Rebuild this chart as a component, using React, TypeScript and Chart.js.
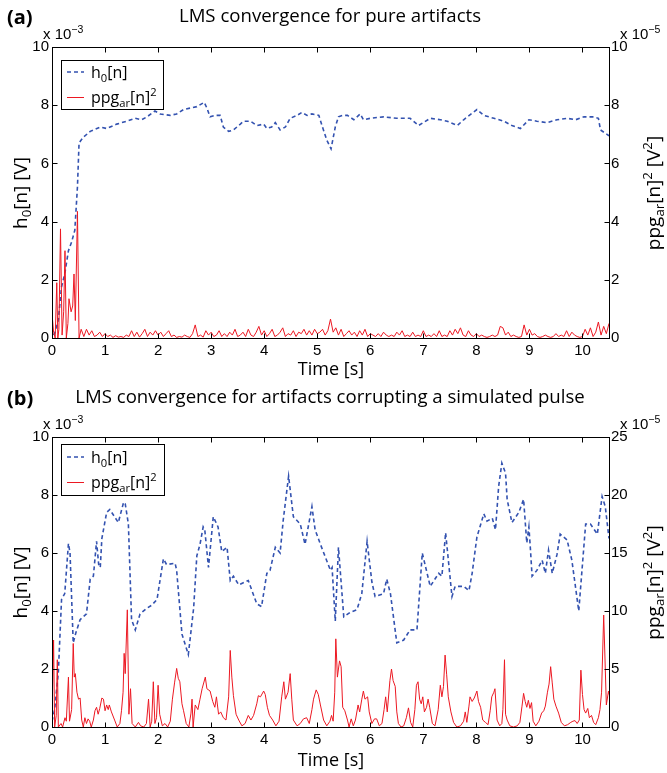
import React, { useEffect, useRef } from 'react';
import { Chart, registerables } from 'chart.js';

Chart.register(...registerables);

// ---------- data ----------
const X_MAX = 10.5;
const X_STEP = 1;
const LEFT_MAX = 10;
const LEFT_STEP = 2;
const RIGHT_MAX_A = 10;
const RIGHT_STEP_A = 2;
const RIGHT_MAX_B = 25;
const RIGHT_STEP_B = 5;

const TITLE_A = 'LMS convergence for pure artifacts';
const TITLE_B = 'LMS convergence for artifacts corrupting a simulated pulse';

// (a) h0[n]  [time s, value x1e-3]
const BLUE_A: [number, number][] = [
  [0.03, 0.1], [0.06, 0.2], [0.12, 0.62], [0.18, 1.76], [0.24, 2.2], [0.31, 3.0], [0.37, 3.3], [0.43, 3.7],
  [0.48, 5.2], [0.51, 6.7], [0.59, 6.9], [0.72, 7.1], [0.91, 7.25], [1.03, 7.2], [1.22, 7.35], [1.41, 7.45],
  [1.57, 7.55], [1.69, 7.5], [1.79, 7.6], [1.94, 7.8], [2.04, 7.7], [2.23, 7.65], [2.35, 7.7], [2.48, 7.85],
  [2.6, 7.9], [2.73, 7.95], [2.87, 8.1], [2.92, 7.9], [2.98, 7.6], [3.07, 7.65], [3.17, 7.65], [3.23, 7.25],
  [3.33, 7.1], [3.42, 7.15], [3.55, 7.35], [3.61, 7.45], [3.74, 7.45], [3.86, 7.3], [3.99, 7.35], [4.05, 7.2],
  [4.14, 7.25], [4.21, 7.4], [4.3, 7.15], [4.4, 7.25], [4.49, 7.55], [4.62, 7.65], [4.71, 7.75], [4.81, 7.65],
  [4.9, 7.7], [5.03, 7.65], [5.09, 7.3], [5.18, 6.8], [5.26, 6.5], [5.34, 7.25], [5.4, 7.6], [5.47, 7.65],
  [5.57, 7.65], [5.69, 7.5], [5.81, 7.7], [5.87, 7.5], [6.0, 7.55], [6.25, 7.6], [6.5, 7.55], [6.75, 7.55],
  [6.91, 7.3], [7.13, 7.55], [7.32, 7.5], [7.45, 7.45], [7.64, 7.3], [7.76, 7.5], [8.01, 7.85], [8.14, 7.65],
  [8.33, 7.55], [8.52, 7.45], [8.67, 7.3], [8.83, 7.2], [8.99, 7.5], [9.14, 7.45], [9.33, 7.4], [9.52, 7.5],
  [9.71, 7.55], [9.87, 7.5], [10.03, 7.6], [10.21, 7.6], [10.3, 7.55], [10.34, 7.15], [10.5, 6.95],
];

// (a) ppg_ar[n]^2 initial burst [time s, value x1e-5]
const RED_A_BURST: [number, number][] = [
  [0, 0.85], [0.03, 0.2], [0.06, 0.0], [0.09, 1.9], [0.11, 0.0], [0.13, 0.3], [0.16, 3.75], [0.19, 0.1],
  [0.22, 0.9], [0.245, 3.0], [0.27, 0.0], [0.3, 0.5], [0.32, 1.35], [0.36, 0.9], [0.39, 1.1], [0.415, 2.2],
  [0.44, 0.6], [0.48, 4.35], [0.51, 0.0],
];
// (a) ppg_ar[n]^2 afterwards, sampled every 0.05 s from 0.55 s
const RED_A_TAIL_START = 0.55;
const RED_A_TAIL_STEP = 0.05;
const RED_A_TAIL: number[] = [
  0.3, 0.05, 0.3, 0.1, 0.25, 0.05, 0.1, 0.2, 0.05, 0.15,
  0.05, 0.1, 0.02, 0.08, 0.03, 0.05, 0.02, 0.1, 0.05, 0.25, 0.05, 0.2, 0.03, 0.15, 0.3, 0.05, 0.2, 0.1, 0.25, 0.1,
  0.2, 0.05, 0.15, 0.25, 0.05, 0.1, 0.02, 0.05, 0.03, 0.1, 0.05, 0.02, 0.15, 0.45, 0.05, 0.1, 0.03, 0.25, 0.1, 0.2,
  0.05, 0.1, 0.25, 0.05, 0.15, 0.05, 0.2, 0.1, 0.3, 0.05, 0.1, 0.2, 0.05, 0.3, 0.1, 0.05, 0.2, 0.4, 0.1, 0.25,
  0.05, 0.15, 0.3, 0.05, 0.1, 0.2, 0.35, 0.05, 0.15, 0.1, 0.25, 0.05, 0.2, 0.15, 0.3, 0.1, 0.25, 0.1, 0.3, 0.15,
  0.2, 0.3, 0.1, 0.25, 0.65, 0.2, 0.35, 0.1, 0.3, 0.05, 0.15, 0.25, 0.1, 0.2, 0.05, 0.25, 0.1, 0.3, 0.05, 0.15,
  0.1, 0.05, 0.15, 0.05, 0.2, 0.1, 0.05, 0.1, 0.05, 0.2, 0.1, 0.25, 0.05, 0.1, 0.05, 0.2, 0.05, 0.1, 0.05, 0.25,
  0.05, 0.1, 0.05, 0.15, 0.05, 0.25, 0.05, 0.1, 0.05, 0.25, 0.1, 0.3, 0.15, 0.35, 0.1, 0.05, 0.25, 0.1, 0.05, 0.15,
  0.05, 0.1, 0.05, 0.02, 0.05, 0.1, 0.05, 0.1, 0.4, 0.35, 0.1, 0.2, 0.05, 0.1, 0.05, 0.02, 0.05, 0.45, 0.1, 0.3,
  0.1, 0.15, 0.05, 0.02, 0.05, 0.1, 0.05, 0.02, 0.05, 0.15, 0.05, 0.1, 0.05, 0.25, 0.05, 0.2, 0.1, 0.05, 0.02, 0.05,
  0.3, 0.1, 0.35, 0.05, 0.2, 0.55, 0.1, 0.4, 0.15, 0.5,
];

// (b) h0[n]  [time s, value x1e-3]
const BLUE_B: [number, number][] = [
  [0.0, 0.2], [0.05, 0.6], [0.12, 1.9], [0.18, 4.4], [0.24, 4.6], [0.31, 6.33], [0.34, 6.0], [0.4, 2.9],
  [0.45, 3.25], [0.53, 3.7], [0.65, 3.9], [0.72, 5.1], [0.78, 5.2], [0.84, 6.4], [0.88, 5.6], [0.91, 5.5],
  [0.94, 6.5], [1.03, 7.4], [1.09, 7.5], [1.25, 7.05], [1.35, 7.75], [1.38, 7.7], [1.44, 7.0], [1.5, 3.7],
  [1.57, 3.35], [1.66, 3.9], [1.79, 4.1], [1.88, 4.2], [1.98, 4.4], [2.1, 5.8], [2.16, 5.6], [2.32, 5.65],
  [2.35, 5.4], [2.45, 3.2], [2.57, 2.5], [2.67, 4.1], [2.73, 5.9], [2.79, 6.3], [2.85, 6.9], [2.88, 6.8],
  [2.95, 5.5], [3.04, 7.25], [3.13, 6.9], [3.2, 6.05], [3.3, 6.2], [3.36, 5.05], [3.42, 5.2], [3.52, 4.9],
  [3.7, 5.05], [3.86, 4.25], [3.95, 4.15], [4.05, 5.3], [4.11, 5.4], [4.21, 6.2], [4.3, 6.0], [4.36, 7.15],
  [4.46, 8.65], [4.55, 7.25], [4.68, 7.0], [4.77, 6.3], [4.9, 7.6], [4.96, 6.8], [5.06, 6.3], [5.25, 5.4],
  [5.28, 5.5], [5.34, 3.65], [5.4, 6.2], [5.5, 3.8], [5.62, 3.95], [5.75, 4.05], [5.84, 4.6], [5.94, 6.4],
  [6.03, 5.0], [6.09, 4.5], [6.25, 4.6], [6.31, 5.1], [6.38, 4.6], [6.5, 2.9], [6.63, 3.0], [6.75, 3.35],
  [6.88, 3.35], [6.98, 6.0], [7.13, 4.85], [7.29, 5.3], [7.35, 5.2], [7.42, 6.7], [7.54, 4.5], [7.6, 4.85],
  [7.76, 4.85], [7.86, 4.7], [7.92, 5.3], [8.01, 6.55], [8.14, 7.35], [8.2, 7.1], [8.3, 7.2], [8.36, 6.8],
  [8.42, 8.3], [8.48, 9.1], [8.55, 8.75], [8.58, 7.85], [8.67, 7.05], [8.8, 7.4], [8.89, 7.85], [8.95, 6.35],
  [8.99, 6.9], [9.02, 6.1], [9.05, 5.2], [9.14, 5.4], [9.24, 5.75], [9.3, 5.3], [9.36, 6.1], [9.43, 5.3],
  [9.52, 5.95], [9.58, 6.65], [9.71, 6.45], [9.8, 5.75], [9.93, 4.0], [10.06, 7.0], [10.15, 7.0], [10.28, 6.65],
  [10.37, 7.95], [10.43, 7.6], [10.5, 6.5],
];

// (b) ppg_ar[n]^2  [time s, value x1e-5]
const RED_B: [number, number][] = [
  [0, 1.0], [0.03, 7.5], [0.05, 0.0], [0.08, 1.0], [0.1, 5.8], [0.12, 0.0], [0.17, 0.3], [0.2, 0.0],
  [0.245, 0.8], [0.27, 0.5], [0.31, 4.3], [0.33, 0.5], [0.37, 1.5], [0.4, 7.2], [0.42, 4.3], [0.44, 4.6],
  [0.47, 3.0], [0.5, 2.4], [0.53, 2.5], [0.56, 0.6], [0.59, 0.0], [0.62, 0.8], [0.65, 0.3], [0.68, 0.7],
  [0.71, 0.5], [0.74, 0.0], [0.78, 0.6], [0.81, 1.4], [0.84, 1.7], [0.87, 1.1], [0.9, 1.6], [0.94, 2.5],
  [0.97, 2.4], [1.0, 1.4], [1.03, 1.9], [1.06, 1.5], [1.08, 1.9], [1.12, 1.3], [1.18, 0.6], [1.23, 0.0],
  [1.28, 0.3], [1.31, 1.4], [1.34, 3.0], [1.36, 6.35], [1.38, 4.6], [1.42, 10.1], [1.45, 1.1], [1.48, 3.3],
  [1.51, 0.3], [1.57, 0.0], [1.63, 0.4], [1.67, 0.1], [1.73, 0.0], [1.78, 0.3], [1.82, 2.4], [1.85, 0.0],
  [1.88, 0.5], [1.91, 3.9], [1.94, 0.3], [1.97, 0.8], [2.0, 3.6], [2.03, 1.1], [2.08, 0.1], [2.13, 0.3],
  [2.18, 0.0], [2.23, 0.5], [2.27, 2.4], [2.31, 3.8], [2.35, 5.05], [2.38, 4.2], [2.41, 3.9], [2.45, 2.0],
  [2.48, 1.4], [2.53, 0.3], [2.58, 0.0], [2.62, 1.2], [2.64, 2.4], [2.66, 0.0], [2.7, 1.9], [2.75, 1.5],
  [2.79, 2.4], [2.83, 3.3], [2.89, 4.3], [2.92, 3.3], [2.98, 3.1], [3.03, 2.2], [3.07, 1.7], [3.1, 2.6],
  [3.14, 1.1], [3.18, 1.3], [3.23, 0.8], [3.28, 0.6], [3.33, 2.6], [3.36, 6.6], [3.39, 4.3], [3.42, 2.7],
  [3.47, 1.1], [3.52, 0.6], [3.58, 0.1], [3.64, 0.3], [3.7, 1.0], [3.75, 0.6], [3.8, 1.0], [3.86, 2.0],
  [3.89, 2.7], [3.93, 2.6], [3.99, 3.1], [4.02, 2.8], [4.06, 1.7], [4.1, 1.0], [4.16, 0.6], [4.22, 0.1],
  [4.28, 0.5], [4.33, 2.6], [4.37, 3.9], [4.4, 2.4], [4.45, 3.0], [4.49, 4.6], [4.52, 2.4], [4.55, 0.6],
  [4.62, 0.1], [4.68, 0.3], [4.74, 0.7], [4.8, 0.8], [4.85, 0.3], [4.9, 1.5], [4.93, 2.4], [4.98, 3.2],
  [5.02, 2.8], [5.06, 1.9], [5.12, 0.6], [5.18, 0.1], [5.24, 0.5], [5.27, 1.0], [5.3, 0.5], [5.33, 3.0],
  [5.35, 7.6], [5.38, 4.3], [5.42, 5.7], [5.45, 5.2], [5.48, 1.7], [5.52, 1.4], [5.57, 0.6], [5.6, 0.0],
  [5.64, 0.7], [5.68, 0.1], [5.72, 0.6], [5.77, 1.9], [5.8, 1.3], [5.84, 2.4], [5.87, 3.1], [5.9, 2.4],
  [5.95, 2.6], [5.98, 1.3], [6.03, 0.3], [6.08, 0.7], [6.12, 0.7], [6.17, 0.1], [6.22, 0.3], [6.26, 1.5],
  [6.29, 2.6], [6.32, 1.3], [6.37, 4.0], [6.4, 5.0], [6.43, 4.0], [6.47, 3.5], [6.5, 1.3], [6.53, 0.3],
  [6.58, 0.0], [6.63, 0.1], [6.68, 0.8], [6.72, 1.65], [6.76, 0.4], [6.8, 0.0], [6.84, 1.5], [6.87, 3.6],
  [6.9, 3.9], [6.93, 2.4], [6.96, 2.0], [6.99, 2.6], [7.02, 1.3], [7.06, 1.7], [7.09, 2.4], [7.12, 1.7],
  [7.17, 0.3], [7.22, 0.1], [7.28, 1.5], [7.32, 3.6], [7.35, 2.6], [7.38, 3.5], [7.41, 6.2], [7.44, 4.5],
  [7.47, 2.6], [7.52, 1.3], [7.57, 0.4], [7.63, 0.0], [7.7, 0.1], [7.76, 0.5], [7.79, 1.3], [7.82, 0.4],
  [7.86, 1.8], [7.88, 2.6], [7.92, 2.2], [7.96, 2.5], [8.01, 3.1], [8.04, 2.2], [8.08, 1.7], [8.12, 0.6],
  [8.17, 0.4], [8.22, 0.2], [8.26, 1.4], [8.29, 2.6], [8.33, 3.0], [8.35, 3.3], [8.39, 0.6], [8.44, 0.1],
  [8.48, 0.3], [8.5, 1.5], [8.53, 5.8], [8.55, 1.1], [8.58, 0.6], [8.63, 0.1], [8.7, 0.0], [8.77, 0.1],
  [8.82, 0.4], [8.86, 1.8], [8.89, 2.9], [8.92, 2.2], [8.95, 1.7], [8.98, 2.3], [9.01, 1.6], [9.04, 2.1],
  [9.07, 0.5], [9.12, 0.1], [9.18, 0.5], [9.23, 1.2], [9.27, 1.4], [9.3, 1.8], [9.34, 3.0], [9.37, 3.7],
  [9.4, 5.2], [9.43, 3.8], [9.46, 2.4], [9.5, 1.8], [9.55, 1.2], [9.6, 0.4], [9.66, 0.1], [9.72, 0.2],
  [9.78, 0.4], [9.82, 0.5], [9.86, 0.55], [9.9, 0.3], [9.94, 0.6], [9.97, 4.9], [10.0, 2.8], [10.03, 1.5],
  [10.06, 1.2], [10.1, 1.6], [10.13, 0.8], [10.17, 1.0], [10.21, 0.4], [10.25, 0.2], [10.3, 0.8], [10.33, 1.5],
  [10.36, 3.0], [10.4, 9.65], [10.43, 5.0], [10.45, 1.9], [10.49, 3.1], [10.5, 2.8],
];

// ---------- styling ----------
const BLUE = '#3352b0';
const RED = 'rgb(236,24,34)';
const TICK_FONT = 'Liberation Sans';
const TEXT_FONT = 'Open Sans';

type Part = { t: string; s?: 'sub' | 'sup' };

const H0: Part[] = [{ t: 'h' }, { t: '0', s: 'sub' }, { t: '[n]' }];
const PPG: Part[] = [{ t: 'ppg' }, { t: 'ar', s: 'sub' }, { t: '[n]' }, { t: '2', s: 'sup' }];
const LEFT_TITLE: Part[] = [{ t: 'h' }, { t: '0', s: 'sub' }, { t: '[n] [V]' }];
const RIGHT_TITLE: Part[] = [
  { t: 'ppg' }, { t: 'ar', s: 'sub' }, { t: '[n]' }, { t: '2', s: 'sup' }, { t: ' [V' }, { t: '2', s: 'sup' }, { t: ']' },
];
const EXP_3: Part[] = [{ t: 'x 10' }, { t: '\u22123', s: 'sup' }];
const EXP_5: Part[] = [{ t: 'x 10' }, { t: '\u22125', s: 'sup' }];

function font(size: number, family: string, weight = 'normal') {
  return `${weight} ${size}px "${family}"`;
}

function richWidth(ctx: CanvasRenderingContext2D, parts: Part[], size: number, family: string) {
  let w = 0;
  for (const p of parts) {
    ctx.font = font(p.s ? size * 0.7 : size, family);
    w += ctx.measureText(p.t).width;
  }
  return w;
}

function drawRich(
  ctx: CanvasRenderingContext2D, parts: Part[], x: number, y: number, size: number, family: string,
  align: 'left' | 'center' = 'left',
) {
  const w = richWidth(ctx, parts, size, family);
  let cx = align === 'center' ? x - w / 2 : x;
  ctx.textAlign = 'left';
  ctx.textBaseline = 'alphabetic';
  for (const p of parts) {
    const sz = p.s ? size * 0.7 : size;
    ctx.font = font(sz, family);
    const dy = p.s === 'sub' ? size * 0.22 : p.s === 'sup' ? -size * 0.42 : 0;
    ctx.fillText(p.t, cx, y + dy);
    cx += ctx.measureText(p.t).width;
  }
}

const decorPlugin = {
  id: 'decor',
  afterDraw(chart: any, _args: any, o: any) {
    const ctx: CanvasRenderingContext2D = chart.ctx;
    const { left, right, top, bottom } = chart.chartArea;
    const xs = chart.scales.x;
    const yl = chart.scales.y;
    const yr = chart.scales.y2;
    const L = Math.round(left) + 0.5;
    const R = Math.round(right) + 0.5;
    const T = Math.round(top) + 0.5;
    const B = Math.round(bottom) + 0.5;
    ctx.save();
    ctx.strokeStyle = '#000';
    ctx.lineWidth = 1;
    ctx.setLineDash([]);
    ctx.strokeRect(L, T, R - L, B - T);
    const TL = 5;
    ctx.beginPath();
    for (const t of xs.ticks) {
      const px = Math.round(xs.getPixelForValue(t.value)) + 0.5;
      ctx.moveTo(px, B); ctx.lineTo(px, B - TL);
      ctx.moveTo(px, T); ctx.lineTo(px, T + TL);
    }
    for (const t of yl.ticks) {
      const py = Math.round(yl.getPixelForValue(t.value)) + 0.5;
      ctx.moveTo(L, py); ctx.lineTo(L + TL, py);
    }
    for (const t of yr.ticks) {
      const py = Math.round(yr.getPixelForValue(t.value)) + 0.5;
      ctx.moveTo(R, py); ctx.lineTo(R - TL, py);
    }
    ctx.stroke();

    ctx.fillStyle = '#000';
    // panel label
    ctx.font = font(20, TEXT_FONT, 'bold');
    ctx.textAlign = 'left';
    ctx.textBaseline = 'alphabetic';
    ctx.fillText(o.label, 7, o.labelY);
    // title
    ctx.font = font(o.titleSize, TEXT_FONT);
    ctx.textAlign = 'center';
    ctx.fillText(o.title, 330, o.titleY);
    // exponents
    drawRich(ctx, EXP_3, 43, o.expY, 15, TICK_FONT);
    drawRich(ctx, o.rightExp, 620, o.expY, 15, TICK_FONT);
    // x title
    drawRich(ctx, [{ t: 'Time [s]' }], (L + R) / 2, o.xTitleY, 18, TEXT_FONT, 'center');
    // y titles
    const midY = (T + B) / 2;
    ctx.save();
    ctx.translate(20, midY);
    ctx.rotate(-Math.PI / 2);
    drawRich(ctx, LEFT_TITLE, 0, 7, 19, TEXT_FONT, 'center');
    ctx.restore();
    ctx.save();
    ctx.translate(653, midY);
    ctx.rotate(-Math.PI / 2);
    drawRich(ctx, RIGHT_TITLE, 0, 7, 19, TEXT_FONT, 'center');
    ctx.restore();

    // legend
    const lg = o.legend;
    ctx.fillStyle = '#fff';
    ctx.fillRect(lg.x + 0.5, lg.y + 0.5, lg.w, lg.h);
    ctx.strokeStyle = '#000';
    ctx.strokeRect(lg.x + 0.5, lg.y + 0.5, lg.w, lg.h);
    const r1 = lg.y + lg.r1;
    const r2 = lg.y + lg.r2;
    ctx.beginPath();
    ctx.strokeStyle = BLUE;
    ctx.lineWidth = 1.6;
    ctx.setLineDash([4, 3]);
    ctx.moveTo(lg.x + 6, r1); ctx.lineTo(lg.x + 23, r1);
    ctx.stroke();
    ctx.beginPath();
    ctx.setLineDash([]);
    ctx.strokeStyle = RED;
    ctx.lineWidth = 1;
    ctx.moveTo(lg.x + 6, r2 + 0.5); ctx.lineTo(lg.x + 23, r2 + 0.5);
    ctx.stroke();
    ctx.fillStyle = '#000';
    drawRich(ctx, H0, lg.x + 30, r1 + 6, 16, TEXT_FONT);
    drawRich(ctx, PPG, lg.x + 30, r2 + 6, 16, TEXT_FONT);
    ctx.restore();
  },
};

function makeConfig(
  blue: [number, number][], red: [number, number][], rightMax: number, rightStep: number,
  padTop: number, xHeight: number, deco: any,
): any {
  const tickFont = { family: TICK_FONT, size: 15 };
  return {
    type: 'line',
    data: {
      datasets: [
        {
          data: blue.map(([x, y]) => ({ x, y })),
          yAxisID: 'y',
          borderColor: BLUE,
          borderWidth: 1.6,
          borderDash: [4, 3],
          pointRadius: 0,
          tension: 0,
          order: 2,
        },
        {
          data: red.map(([x, y]) => ({ x, y })),
          yAxisID: 'y2',
          borderColor: RED,
          borderWidth: 1,
          pointRadius: 0,
          tension: 0,
          order: 1,
        },
      ],
    },
    options: {
      animation: false,
      responsive: false,
      events: [],
      layout: { padding: { top: padTop, left: 0, right: 0, bottom: 0 } },
      plugins: { legend: { display: false }, tooltip: { enabled: false }, decor: deco },
      scales: {
        x: {
          type: 'linear',
          min: 0,
          max: X_MAX,
          grid: { display: false, drawTicks: false },
          border: { display: false },
          ticks: { stepSize: X_STEP, includeBounds: false, font: tickFont, color: '#000', padding: 4, maxRotation: 0 },
          afterFit: (s: any) => { s.height = xHeight; },
        },
        y: {
          type: 'linear',
          position: 'left',
          min: 0,
          max: LEFT_MAX,
          grid: { display: false, drawTicks: false },
          border: { display: false },
          ticks: { stepSize: LEFT_STEP, font: tickFont, color: '#000', padding: 3 },
          afterFit: (s: any) => { s.width = 52; },
        },
        y2: {
          type: 'linear',
          position: 'right',
          min: 0,
          max: rightMax,
          grid: { display: false, drawTicks: false },
          border: { display: false },
          ticks: { stepSize: rightStep, font: tickFont, color: '#000', padding: 2 },
          afterFit: (s: any) => { s.width = 58; },
        },
      },
    },
    plugins: [decorPlugin],
  };
}

function redA(): [number, number][] {
  const tail: [number, number][] = RED_A_TAIL.map((v, i) => [RED_A_TAIL_START + i * RED_A_TAIL_STEP, v]);
  return [...RED_A_BURST, ...tail];
}

function Panel(props: { config: () => any; top: number; height: number }) {
  const ref = useRef<HTMLCanvasElement | null>(null);
  useEffect(() => {
    if (!ref.current) return;
    const chart = new Chart(ref.current, props.config());
    return () => chart.destroy();
  }, []);
  return (
    <canvas
      ref={ref}
      width={667}
      height={props.height}
      style={{ position: 'absolute', left: 0, top: props.top, width: 667, height: props.height, display: 'block' }}
    />
  );
}

export default function App() {
  const cfgA = () =>
    makeConfig(BLUE_A, redA(), RIGHT_MAX_A, RIGHT_STEP_A, 47, 47, {
      label: '(a)', labelY: 24, title: TITLE_A, titleY: 22, titleSize: 18.6, expY: 39, rightExp: EXP_5,
      xTitleY: 375, legend: { x: 61, y: 60, w: 102, h: 49, r1: 12, r2: 37 },
    });
  const cfgB = () =>
    makeConfig(BLUE_B, RED_B, RIGHT_MAX_B, RIGHT_STEP_B, 52, 46, {
      label: '(b)', labelY: 20, title: TITLE_B, titleY: 18, titleSize: 18.6, expY: 44, rightExp: EXP_5,
      xTitleY: 381, legend: { x: 61, y: 59, w: 103, h: 51, r1: 13, r2: 38 },
    });
  return (
    <div style={{ position: 'absolute', left: 0, top: 0, width: 667, height: 773, background: '#fff' }}>
      <Panel config={cfgA} top={0} height={385} />
      <Panel config={cfgB} top={385} height={388} />
    </div>
  );
}
